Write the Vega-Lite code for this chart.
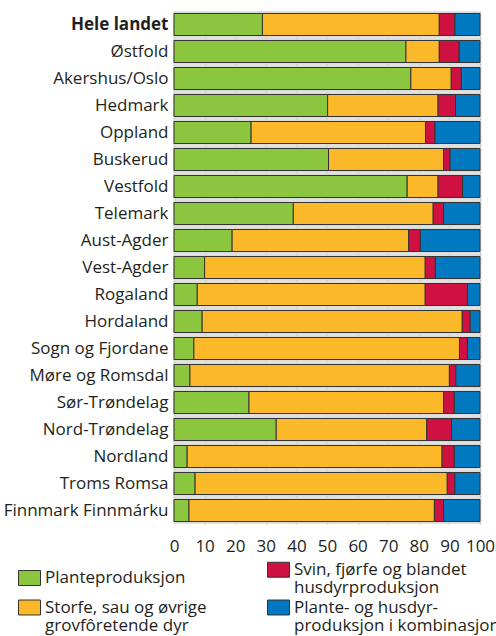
{
  "$schema": "https://vega.github.io/schema/vega-lite/v6.json",
  "width": 306,
  "height": 513,
  "autosize": {"type": "none"},
  "padding": {"left": 174, "top": 11, "right": 16, "bottom": 112},
  "background": "white",
  "config": {
    "font": "Open Sans",
    "view": {"stroke": null},
    "axis": {"labelColor": "#231f20", "labelFontSize": 17, "title": null, "ticks": false, "domain": false},
    "style": {"guide-label": {"lineHeight": 18}}
  },
  "data": {
    "values": [
      {"fylke": "Hele landet", "type": "Planteproduksjon", "k": 1, "pct": 28.9},
      {"fylke": "Hele landet", "type": "Storfe, sau og øvrige grovfôretende dyr", "k": 2, "pct": 57.8},
      {"fylke": "Hele landet", "type": "Svin, fjørfe og blandet husdyrproduksjon", "k": 3, "pct": 5.1},
      {"fylke": "Hele landet", "type": "Plante- og husdyrproduksjon i kombinasjon", "k": 4, "pct": 8.2},
      {"fylke": "Østfold", "type": "Planteproduksjon", "k": 1, "pct": 75.8},
      {"fylke": "Østfold", "type": "Storfe, sau og øvrige grovfôretende dyr", "k": 2, "pct": 10.9},
      {"fylke": "Østfold", "type": "Svin, fjørfe og blandet husdyrproduksjon", "k": 3, "pct": 6.5},
      {"fylke": "Østfold", "type": "Plante- og husdyrproduksjon i kombinasjon", "k": 4, "pct": 6.8},
      {"fylke": "Akershus/Oslo", "type": "Planteproduksjon", "k": 1, "pct": 77.4},
      {"fylke": "Akershus/Oslo", "type": "Storfe, sau og øvrige grovfôretende dyr", "k": 2, "pct": 13.2},
      {"fylke": "Akershus/Oslo", "type": "Svin, fjørfe og blandet husdyrproduksjon", "k": 3, "pct": 3.3},
      {"fylke": "Akershus/Oslo", "type": "Plante- og husdyrproduksjon i kombinasjon", "k": 4, "pct": 6.1},
      {"fylke": "Hedmark", "type": "Planteproduksjon", "k": 1, "pct": 50.2},
      {"fylke": "Hedmark", "type": "Storfe, sau og øvrige grovfôretende dyr", "k": 2, "pct": 36.1},
      {"fylke": "Hedmark", "type": "Svin, fjørfe og blandet husdyrproduksjon", "k": 3, "pct": 5.7},
      {"fylke": "Hedmark", "type": "Plante- og husdyrproduksjon i kombinasjon", "k": 4, "pct": 8.0},
      {"fylke": "Oppland", "type": "Planteproduksjon", "k": 1, "pct": 25.2},
      {"fylke": "Oppland", "type": "Storfe, sau og øvrige grovfôretende dyr", "k": 2, "pct": 57.0},
      {"fylke": "Oppland", "type": "Svin, fjørfe og blandet husdyrproduksjon", "k": 3, "pct": 3.1},
      {"fylke": "Oppland", "type": "Plante- og husdyrproduksjon i kombinasjon", "k": 4, "pct": 14.7},
      {"fylke": "Buskerud", "type": "Planteproduksjon", "k": 1, "pct": 50.5},
      {"fylke": "Buskerud", "type": "Storfe, sau og øvrige grovfôretende dyr", "k": 2, "pct": 37.6},
      {"fylke": "Buskerud", "type": "Svin, fjørfe og blandet husdyrproduksjon", "k": 3, "pct": 2.1},
      {"fylke": "Buskerud", "type": "Plante- og husdyrproduksjon i kombinasjon", "k": 4, "pct": 9.8},
      {"fylke": "Vestfold", "type": "Planteproduksjon", "k": 1, "pct": 76.2},
      {"fylke": "Vestfold", "type": "Storfe, sau og øvrige grovfôretende dyr", "k": 2, "pct": 10.1},
      {"fylke": "Vestfold", "type": "Svin, fjørfe og blandet husdyrproduksjon", "k": 3, "pct": 8.0},
      {"fylke": "Vestfold", "type": "Plante- og husdyrproduksjon i kombinasjon", "k": 4, "pct": 5.7},
      {"fylke": "Telemark", "type": "Planteproduksjon", "k": 1, "pct": 39.0},
      {"fylke": "Telemark", "type": "Storfe, sau og øvrige grovfôretende dyr", "k": 2, "pct": 45.7},
      {"fylke": "Telemark", "type": "Svin, fjørfe og blandet husdyrproduksjon", "k": 3, "pct": 3.4},
      {"fylke": "Telemark", "type": "Plante- og husdyrproduksjon i kombinasjon", "k": 4, "pct": 11.9},
      {"fylke": "Aust-Agder", "type": "Planteproduksjon", "k": 1, "pct": 19.0},
      {"fylke": "Aust-Agder", "type": "Storfe, sau og øvrige grovfôretende dyr", "k": 2, "pct": 57.7},
      {"fylke": "Aust-Agder", "type": "Svin, fjørfe og blandet husdyrproduksjon", "k": 3, "pct": 3.8},
      {"fylke": "Aust-Agder", "type": "Plante- og husdyrproduksjon i kombinasjon", "k": 4, "pct": 19.5},
      {"fylke": "Vest-Agder", "type": "Planteproduksjon", "k": 1, "pct": 10.0},
      {"fylke": "Vest-Agder", "type": "Storfe, sau og øvrige grovfôretende dyr", "k": 2, "pct": 72.1},
      {"fylke": "Vest-Agder", "type": "Svin, fjørfe og blandet husdyrproduksjon", "k": 3, "pct": 3.3},
      {"fylke": "Vest-Agder", "type": "Plante- og husdyrproduksjon i kombinasjon", "k": 4, "pct": 14.6},
      {"fylke": "Rogaland", "type": "Planteproduksjon", "k": 1, "pct": 7.6},
      {"fylke": "Rogaland", "type": "Storfe, sau og øvrige grovfôretende dyr", "k": 2, "pct": 74.5},
      {"fylke": "Rogaland", "type": "Svin, fjørfe og blandet husdyrproduksjon", "k": 3, "pct": 13.8},
      {"fylke": "Rogaland", "type": "Plante- og husdyrproduksjon i kombinasjon", "k": 4, "pct": 4.1},
      {"fylke": "Hordaland", "type": "Planteproduksjon", "k": 1, "pct": 9.2},
      {"fylke": "Hordaland", "type": "Storfe, sau og øvrige grovfôretende dyr", "k": 2, "pct": 85.0},
      {"fylke": "Hordaland", "type": "Svin, fjørfe og blandet husdyrproduksjon", "k": 3, "pct": 2.6},
      {"fylke": "Hordaland", "type": "Plante- og husdyrproduksjon i kombinasjon", "k": 4, "pct": 3.2},
      {"fylke": "Sogn og Fjordane", "type": "Planteproduksjon", "k": 1, "pct": 6.5},
      {"fylke": "Sogn og Fjordane", "type": "Storfe, sau og øvrige grovfôretende dyr", "k": 2, "pct": 86.8},
      {"fylke": "Sogn og Fjordane", "type": "Svin, fjørfe og blandet husdyrproduksjon", "k": 3, "pct": 2.6},
      {"fylke": "Sogn og Fjordane", "type": "Plante- og husdyrproduksjon i kombinasjon", "k": 4, "pct": 4.1},
      {"fylke": "Møre og Romsdal", "type": "Planteproduksjon", "k": 1, "pct": 5.2},
      {"fylke": "Møre og Romsdal", "type": "Storfe, sau og øvrige grovfôretende dyr", "k": 2, "pct": 84.8},
      {"fylke": "Møre og Romsdal", "type": "Svin, fjørfe og blandet husdyrproduksjon", "k": 3, "pct": 2.1},
      {"fylke": "Møre og Romsdal", "type": "Plante- og husdyrproduksjon i kombinasjon", "k": 4, "pct": 7.9},
      {"fylke": "Sør-Trøndelag", "type": "Planteproduksjon", "k": 1, "pct": 24.5},
      {"fylke": "Sør-Trøndelag", "type": "Storfe, sau og øvrige grovfôretende dyr", "k": 2, "pct": 63.6},
      {"fylke": "Sør-Trøndelag", "type": "Svin, fjørfe og blandet husdyrproduksjon", "k": 3, "pct": 3.5},
      {"fylke": "Sør-Trøndelag", "type": "Plante- og husdyrproduksjon i kombinasjon", "k": 4, "pct": 8.4},
      {"fylke": "Nord-Trøndelag", "type": "Planteproduksjon", "k": 1, "pct": 33.4},
      {"fylke": "Nord-Trøndelag", "type": "Storfe, sau og øvrige grovfôretende dyr", "k": 2, "pct": 49.2},
      {"fylke": "Nord-Trøndelag", "type": "Svin, fjørfe og blandet husdyrproduksjon", "k": 3, "pct": 8.1},
      {"fylke": "Nord-Trøndelag", "type": "Plante- og husdyrproduksjon i kombinasjon", "k": 4, "pct": 9.3},
      {"fylke": "Nordland", "type": "Planteproduksjon", "k": 1, "pct": 4.3},
      {"fylke": "Nordland", "type": "Storfe, sau og øvrige grovfôretende dyr", "k": 2, "pct": 83.3},
      {"fylke": "Nordland", "type": "Svin, fjørfe og blandet husdyrproduksjon", "k": 3, "pct": 4.0},
      {"fylke": "Nordland", "type": "Plante- og husdyrproduksjon i kombinasjon", "k": 4, "pct": 8.4},
      {"fylke": "Troms Romsa", "type": "Planteproduksjon", "k": 1, "pct": 6.9},
      {"fylke": "Troms Romsa", "type": "Storfe, sau og øvrige grovfôretende dyr", "k": 2, "pct": 82.4},
      {"fylke": "Troms Romsa", "type": "Svin, fjørfe og blandet husdyrproduksjon", "k": 3, "pct": 2.5},
      {"fylke": "Troms Romsa", "type": "Plante- og husdyrproduksjon i kombinasjon", "k": 4, "pct": 8.2},
      {"fylke": "Finnmark Finnmárku", "type": "Planteproduksjon", "k": 1, "pct": 4.9},
      {"fylke": "Finnmark Finnmárku", "type": "Storfe, sau og øvrige grovfôretende dyr", "k": 2, "pct": 80.2},
      {"fylke": "Finnmark Finnmárku", "type": "Svin, fjørfe og blandet husdyrproduksjon", "k": 3, "pct": 3.0},
      {"fylke": "Finnmark Finnmárku", "type": "Plante- og husdyrproduksjon i kombinasjon", "k": 4, "pct": 11.9}
    ]
  },
  "encoding": {
    "y": {
      "field": "fylke",
      "type": "nominal",
      "sort": null,
      "scale": {"paddingInner": 0.185, "paddingOuter": 0.0925},
      "axis": {
        "labelPadding": 6,
        "labelLimit": 200,
        "labelFontWeight": {"condition": {"test": "datum.value == 'Hele landet'", "value": "bold"}, "value": "normal"}
      }
    }
  },
  "layer": [
    {
      "mark": {"type": "bar", "color": "#e4e4e4", "stroke": "#dadada", "strokeWidth": 1, "height": {"band": 1.12}},
      "encoding": {
        "x": {
          "datum": 0,
          "type": "quantitative",
          "scale": {"domain": [0, 100], "nice": false},
          "axis": {"values": [0, 10, 20, 30, 40, 50, 60, 70, 80, 90, 100], "labelOverlap": false, "labelFlush": false, "labelFontSize": 17, "labelPadding": 14, "grid": true, "gridColor": "#c2c2c2", "gridWidth": 1.5}
        },
        "x2": {"datum": 100}
      }
    },
    {
      "mark": {"type": "bar", "stroke": "#333333", "strokeWidth": 1},
      "encoding": {
        "x": {
          "field": "pct",
          "type": "quantitative",
          "stack": "zero",
          "axis": {"values": [0, 10, 20, 30, 40, 50, 60, 70, 80, 90, 100], "labelOverlap": false, "labelFlush": false, "labelFontSize": 17, "labelPadding": 14, "grid": true, "gridColor": "#c2c2c2", "gridWidth": 1.5}
        },
        "order": {"field": "k", "type": "quantitative"},
        "color": {
          "field": "type",
          "type": "nominal",
          "scale": {
            "domain": ["Planteproduksjon", "Svin, fjørfe og blandet husdyrproduksjon", "Storfe, sau og øvrige grovfôretende dyr", "Plante- og husdyrproduksjon i kombinasjon"],
            "range": ["#8cc63f", "#ce1141", "#fbb829", "#0079c1"]
          },
          "legend": {
            "orient": "none",
            "legendX": -156,
            "legendY": 547,
            "columns": 2,
            "direction": "horizontal",
            "title": null,
            "columnPadding": 58,
            "rowPadding": 0,
            "symbolType": "M-1,-0.68H1V0.68H-1Z",
            "symbolSize": 484,
            "symbolStrokeColor": "#333333",
            "symbolStrokeWidth": 1,
            "symbolOpacity": 1,
            "labelFontSize": 17,
            "labelColor": "#231f20",
            "labelLimit": 400,
            "labelOffset": 4,
            "labelExpr": "datum.label == 'Storfe, sau og øvrige grovfôretende dyr' ? ['Storfe, sau og øvrige', 'grovfôretende dyr'] : datum.label == 'Svin, fjørfe og blandet husdyrproduksjon' ? ['Svin, fjørfe og blandet', 'husdyrproduksjon'] : datum.label == 'Plante- og husdyrproduksjon i kombinasjon' ? ['Plante- og husdyr-', 'produksjon i kombinasjon'] : datum.label"
          }
        }
      }
    }
  ]
}
